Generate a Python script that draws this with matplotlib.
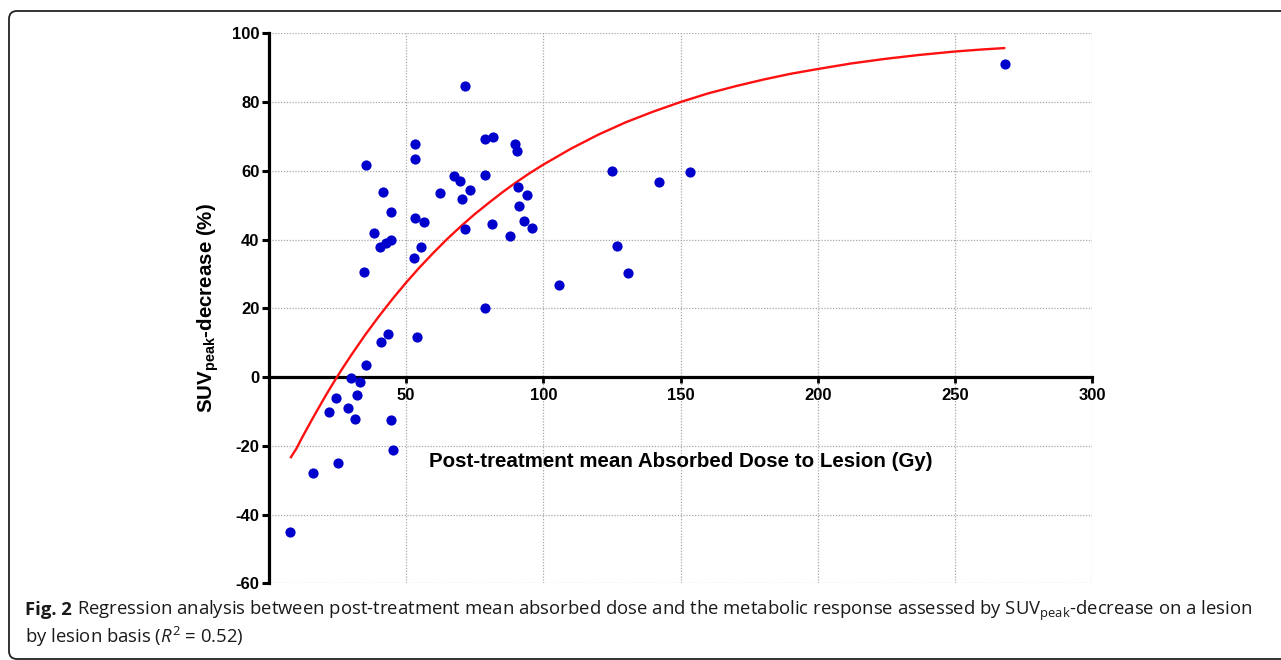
import matplotlib
matplotlib.use("Agg")
import matplotlib.pyplot as plt
from matplotlib.patches import FancyBboxPatch
from matplotlib.transforms import IdentityTransform

plt.rcParams['mathtext.fontset'] = 'custom'
plt.rcParams['mathtext.rm'] = 'Open Sans'
plt.rcParams['mathtext.it'] = 'Open Sans:italic'
plt.rcParams['mathtext.bf'] = 'Liberation Sans:bold'
plt.rcParams['axes.unicode_minus'] = False

# ---- data ----
dose = [7.7, 16.2, 25.3, 22.0, 24.3, 28.7, 29.8, 31.4, 31.9, 33.3,
        35.3, 34.7, 35.4, 38.2, 40.5, 42.6, 44.6, 44.4, 41.6, 40.7,
        43.4, 44.4, 45.3, 53.2, 53.4, 53.3, 56.6, 55.3, 53.0, 53.9,
        62.4, 67.4, 69.6, 70.2, 73.1, 71.4, 71.3, 78.8, 81.7, 78.8,
        81.4, 78.8, 87.9, 89.7, 90.5, 90.9, 94.2, 91.1, 92.9, 95.8,
        105.6, 125.1, 126.7, 130.7, 142.1, 153.3, 268.3]
suv_decrease = [-45.2, -27.8, -25.0, -10.3, -6.1, -9.1, -0.2, -12.2, -5.1, -1.3,
                3.5, 30.6, 61.7, 41.8, 37.9, 39.0, 40.0, 47.9, 53.7, 10.1,
                12.4, -12.4, -21.2, 67.9, 63.4, 46.2, 45.2, 37.8, 34.6, 11.7,
                53.4, 58.5, 57.1, 51.9, 54.4, 84.8, 43.0, 69.3, 69.9, 58.9,
                44.6, 20.0, 40.9, 67.9, 65.9, 55.2, 53.1, 49.9, 45.3, 43.5,
                26.8, 60.0, 38.0, 30.3, 56.6, 59.7, 91.0]

# fitted regression curve, read along its length
curve_x = [8, 10, 12, 14, 16, 18, 20, 22, 24, 27, 30, 35, 40, 45, 50, 55, 60,
           65, 70, 75, 80, 85, 90, 95, 100, 110, 120, 130, 140, 150, 160, 170,
           180, 190, 200, 212, 225, 237, 250, 260, 268]
curve_y = [-23.3, -20.8, -17.7, -14.8, -11.9, -9.1, -6.3, -3.6, -1.0, 2.8,
           6.4, 12.2, 17.6, 22.7, 27.5, 32.0, 36.2, 40.2, 43.9, 47.4, 50.6,
           53.7, 56.6, 59.3, 61.8, 66.4, 70.5, 74.1, 77.2, 80.0, 82.5, 84.6,
           86.5, 88.2, 89.6, 91.2, 92.6, 93.7, 94.7, 95.3, 95.7]

x_ticks = [50, 100, 150, 200, 250, 300]
y_ticks = [-60, -40, -20, 0, 20, 40, 60, 80, 100]

x_label = "Post-treatment mean Absorbed Dose to Lesion (Gy)"
y_label = r"SUV$_{\mathbf{peak}}$-decrease (%)"
caption_bold = "Fig. 2"
caption_1 = (r"Regression analysis between post-treatment mean absorbed dose and the "
             r"metabolic response assessed by SUV$_{\mathrm{peak}}$-decrease on a lesion")
caption_2 = r"by lesion basis ($R^2$ = 0.52)"

# ---- figure ----
W, H = 1281, 660
fig = plt.figure(figsize=(W / 100, H / 100), dpi=100)
ax = fig.add_axes([269 / W, (H - 583.3) / H, (1092 - 269) / W, (583.3 - 33.3) / H])

axis_font = ['Liberation Sans', 'DejaVu Sans']

ax.plot(curve_x, curve_y, color='#ff1010', lw=1.7, zorder=3,
        solid_joinstyle='round')
ax.scatter(dose, suv_decrease, s=54, color='#0000cc', linewidths=0, zorder=4)

ax.set_xlim(0, 300)
ax.set_ylim(-60, 100)
ax.set_xticks(x_ticks)
ax.set_yticks(y_ticks)

for s in ('top', 'right'):
    ax.spines[s].set_visible(False)
ax.spines['left'].set_linewidth(2.3)
ax.spines['bottom'].set_linewidth(2.3)
ax.spines['bottom'].set_position(('data', 0))
ax.spines['bottom'].set_zorder(2)

ax.tick_params(axis='y', direction='out', length=5, width=2.2, pad=1.8,
               labelsize=12)
ax.tick_params(axis='x', direction='out', length=4, width=2.0, pad=4.0,
               labelsize=12)
for lab in ax.get_xticklabels() + ax.get_yticklabels():
    lab.set_fontweight('bold')
    lab.set_family(axis_font)

ax.grid(True, linestyle=(0, (1, 1.3)), color='#a8a8a8', linewidth=0.9, zorder=0)
ax.set_axisbelow(True)

ax.text(150, -24.5, x_label, ha='center', va='center', fontsize=14.8,
        fontweight='bold', family=axis_font)
ax.text((208 - 269) / (1092 - 269), 0.5, y_label, transform=ax.transAxes,
        rotation=90, ha='center', va='center', fontsize=14.8,
        fontweight='bold', family=axis_font)

# ---- caption ----
cap_font = ['Open Sans', 'DejaVu Sans']
cap_size = 13.3
t_bold = fig.text(25 / W, 45 / H, caption_bold, fontsize=cap_size, fontweight='bold',
                  family=cap_font, va='baseline', ha='left', color='#1a1a1a')
renderer = fig.canvas.get_renderer()
bb = t_bold.get_window_extent(renderer)
fig.text((bb.x1 + 5) / W, 45 / H, caption_1, fontsize=cap_size, family=cap_font,
         va='baseline', ha='left', color='#1a1a1a')
fig.text(25 / W, 17 / H, caption_2, fontsize=cap_size, family=cap_font,
         va='baseline', ha='left', color='#1a1a1a')

# ---- rounded frame ----
frame = FancyBboxPatch((9, 1), 1320, 648, boxstyle='round,pad=0,rounding_size=8',
                       transform=IdentityTransform(), fill=False,
                       edgecolor='#222222', linewidth=1.3)
fig.add_artist(frame)

fig.savefig('out.png', dpi=100)
